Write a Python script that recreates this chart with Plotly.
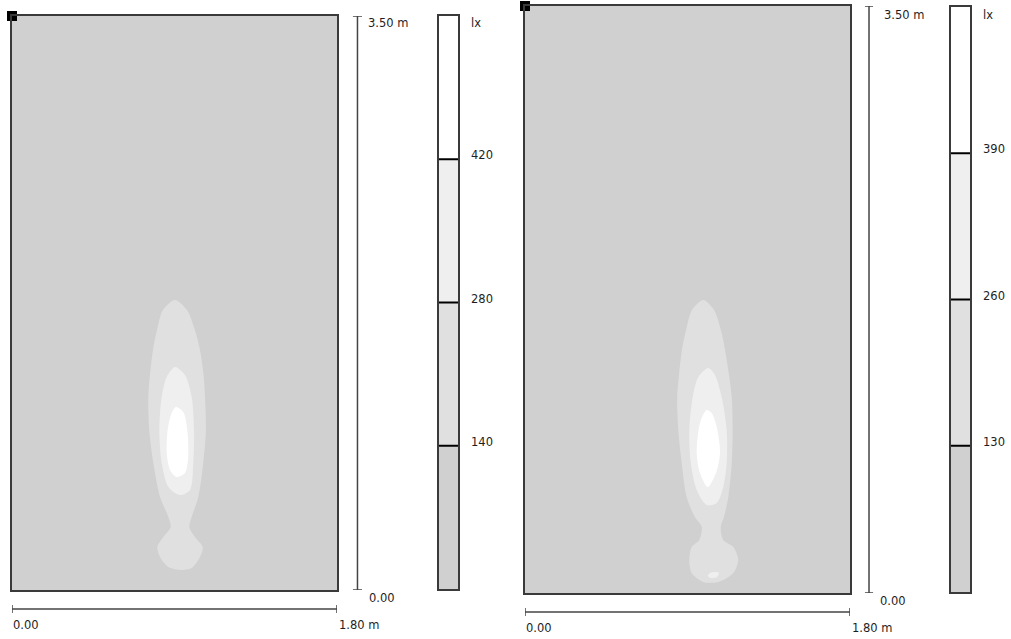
import plotly.graph_objects as go

W, H = 1011, 639

# ---------------- data (metres / lux) ----------------
room_w, room_h = 1.80, 3.50
band_colors = ["#d0d0d0", "#e0e0e0", "#efefef", "#ffffff"]

# left plot
left_levels = [140, 280, 420]
left_top = 560
left_outer_x = [0.903, 0.836, 0.803, 0.781, 0.764, 0.755, 0.760, 0.783, 0.820, 0.866, 0.879, 0.838, 0.805, 0.820, 0.866, 0.930,
                0.995, 1.041, 1.056, 1.013, 0.982, 0.995, 1.032, 1.059, 1.074, 1.069, 1.061, 1.041, 1.013, 0.969, 0.903]
left_outer_y = [1.768, 1.707, 1.585, 1.464, 1.311, 1.177, 0.976, 0.774, 0.567, 0.445, 0.384, 0.323, 0.262, 0.201, 0.140, 0.122,
                0.134, 0.201, 0.262, 0.323, 0.384, 0.445, 0.567, 0.774, 0.976, 1.177, 1.311, 1.464, 1.585, 1.707, 1.768]
left_mid_x = [0.903, 0.857, 0.829, 0.816, 0.829, 0.866, 0.930, 0.986, 1.004, 1.008, 0.995, 0.958, 0.903]
left_mid_y = [1.360, 1.299, 1.177, 0.976, 0.774, 0.628, 0.579, 0.610, 0.774, 0.976, 1.177, 1.311, 1.360]
left_in_x = [0.908, 0.884, 0.862, 0.857, 0.875, 0.912, 0.958, 0.976, 0.971, 0.949, 0.908]
left_in_y = [1.116, 1.079, 0.976, 0.835, 0.732, 0.689, 0.713, 0.811, 0.976, 1.085, 1.116]

# right plot
right_levels = [130, 260, 390]
right_top = 520
right_outer_x = [0.987, 0.925, 0.892, 0.869, 0.853, 0.843, 0.849, 0.868, 0.895, 0.941, 0.979, 0.965, 0.923, 0.910, 0.923, 0.987,
                 1.071, 1.154, 1.181, 1.154, 1.098, 1.084, 1.102, 1.126, 1.145, 1.150, 1.145, 1.130, 1.108, 1.085, 1.047, 0.987]
right_outer_y = [1.747, 1.688, 1.568, 1.449, 1.300, 1.169, 0.972, 0.775, 0.572, 0.453, 0.394, 0.316, 0.274, 0.197, 0.119, 0.066,
                 0.066, 0.119, 0.197, 0.274, 0.316, 0.394, 0.453, 0.572, 0.775, 0.972, 1.169, 1.300, 1.449, 1.568, 1.688, 1.747]
right_mid_x = [1.015, 0.960, 0.929, 0.910, 0.918, 0.951, 1.006, 1.062, 1.098, 1.117, 1.117, 1.089, 1.052, 1.015]
right_mid_y = [1.342, 1.288, 1.169, 0.972, 0.775, 0.614, 0.525, 0.537, 0.632, 0.775, 0.972, 1.169, 1.300, 1.342]
right_in_x = [1.006, 0.969, 0.951, 0.969, 1.012, 1.058, 1.080, 1.062, 1.034, 1.006]
right_in_y = [1.091, 1.014, 0.835, 0.716, 0.632, 0.716, 0.835, 0.990, 1.073, 1.091]
right_spot_x = [1.013, 1.025, 1.058, 1.074, 1.063, 1.030, 1.013]
right_spot_y = [0.101, 0.119, 0.125, 0.119, 0.095, 0.089, 0.101]

# ---------------- layout geometry (pixels) ----------------
def px_dom_x(a, b):
    return [a / W, b / W]

def px_dom_y(top, bottom):
    return [1 - bottom / H, 1 - top / H]

FONT = dict(family="DejaVu Sans, Verdana, sans-serif", size=11.5, color="#1e1e1e")
EDGE = "#3a3a3a"

fig = go.Figure()

def poly(x, y, color, xa, ya):
    fig.add_trace(go.Scatter(x=x, y=y, mode="lines", fill="toself", fillcolor=color,
                             line=dict(width=0, shape="spline", smoothing=0.8, color=color),
                             xaxis=xa, yaxis=ya, hoverinfo="skip", showlegend=False))

# left room
poly(left_outer_x, left_outer_y, band_colors[1], "x", "y")
poly(left_mid_x, left_mid_y, band_colors[2], "x", "y")
poly(left_in_x, left_in_y, band_colors[3], "x", "y")
# right room
poly(right_outer_x, right_outer_y, band_colors[1], "x3", "y3")
poly(right_mid_x, right_mid_y, band_colors[2], "x3", "y3")
poly(right_in_x, right_in_y, band_colors[3], "x3", "y3")
poly(right_spot_x, right_spot_y, band_colors[2], "x3", "y3")

# corner markers
for xa, ya in (("x", "y"), ("x3", "y3")):
    fig.add_trace(go.Scatter(x=[0], y=[room_h], mode="markers", xaxis=xa, yaxis=ya,
                             marker=dict(symbol="square", size=10, color="black", line=dict(width=0)),
                             cliponaxis=False, hoverinfo="skip", showlegend=False))

# colour scales (stacked bars)
def scale_bars(levels, top, xa, ya):
    bounds = [0] + levels + [top]
    fig.add_trace(go.Bar(x=[0] * 4, y=[bounds[i + 1] - bounds[i] for i in range(4)],
                         base=bounds[:4], width=1, marker=dict(color=band_colors, line=dict(width=0)),
                         xaxis=xa, yaxis=ya, hoverinfo="skip", showlegend=False))

scale_bars(left_levels, left_top, "x2", "y2")
scale_bars(right_levels, right_top, "x4", "y4")

room_axis = dict(showgrid=False, zeroline=False, showticklabels=False, ticks="",
                 showline=True, mirror=True, linecolor=EDGE, linewidth=1.5, fixedrange=True)

layout = dict(
    width=W, height=H, margin=dict(l=0, r=0, t=0, b=0),
    paper_bgcolor="white", plot_bgcolor="white", showlegend=False, font=FONT,
    barmode="overlay",
    xaxis=dict(room_axis, domain=px_dom_x(12, 337), range=[0, room_w]),
    yaxis=dict(room_axis, domain=px_dom_y(16, 590), range=[0, room_h]),
    xaxis2=dict(room_axis, domain=px_dom_x(439, 458), range=[-0.5, 0.5], anchor="y2"),
    yaxis2=dict(room_axis, domain=px_dom_y(16, 589), range=[0, left_top], anchor="x2"),
    xaxis3=dict(room_axis, domain=px_dom_x(525, 850), range=[0, room_w], anchor="y3"),
    yaxis3=dict(room_axis, domain=px_dom_y(6, 593), range=[0, room_h], anchor="x3"),
    xaxis4=dict(room_axis, domain=px_dom_x(951, 970), range=[-0.5, 0.5], anchor="y4"),
    yaxis4=dict(room_axis, domain=px_dom_y(7, 592), range=[0, right_top], anchor="x4"),
)
fig.update_layout(**layout)

shapes = []
anns = []

# room backgrounds
for xa, ya in (("x", "y"), ("x3", "y3")):
    shapes.append(dict(type="rect", xref=xa + " domain", yref=ya + " domain", x0=0, x1=1, y0=0, y1=1,
                       fillcolor=band_colors[0], line=dict(width=0), layer="below"))

SC = "#444444"

def scale_marks(xa, ya, hy, hcap, vx, vcap0, vcap1):
    # horizontal scale
    shapes.append(dict(type="line", xref=xa, yref=ya + " domain", x0=0, x1=room_w, y0=hy, y1=hy,
                       line=dict(color=SC, width=1.5)))
    for xv in (0, room_w):
        shapes.append(dict(type="line", xref=xa, yref=ya + " domain", x0=xv, x1=xv,
                           y0=hy - hcap, y1=hy + hcap, line=dict(color=SC, width=1.5)))
    # vertical scale
    shapes.append(dict(type="line", xref=xa + " domain", yref=ya, x0=vx, x1=vx, y0=0, y1=room_h,
                       line=dict(color=SC, width=1.5)))
    for yv in (0, room_h):
        shapes.append(dict(type="line", xref=xa + " domain", yref=ya, x0=vcap0, x1=vcap1, y0=yv, y1=yv,
                           line=dict(color=SC, width=1.5)))

scale_marks("x", "y", -0.0331, 0.007, 1.063, 1.049, 1.077)
scale_marks("x3", "y3", -0.0324, 0.0068, 1.0585, 1.046, 1.071)

def level_lines(levels, xa, ya):
    for lv in levels:
        shapes.append(dict(type="line", xref=xa + " domain", yref=ya, x0=0, x1=1, y0=lv, y1=lv,
                           line=dict(color="black", width=2)))

level_lines(left_levels, "x2", "y2")
level_lines(right_levels, "x4", "y4")

def text(x, y, t, xref, yref, xshift=0, yshift=0):
    anns.append(dict(x=x, y=y, xref=xref, yref=yref, text=t, showarrow=False, xanchor="left",
                     yanchor="middle", xshift=xshift, yshift=yshift, font=FONT))

# left labels
text(1.089, room_h, "3.50 m", "x domain", "y", yshift=-7)
text(1.092, 0, "0.00", "x domain", "y", yshift=-8)
text(0, 0, "0.00", "x", "y domain", xshift=-1, yshift=-35)
text(room_w, 0, "1.80 m", "x", "y domain", xshift=0, yshift=-35)
text(1, left_top, "lx", "x2 domain", "y2", xshift=11, yshift=-7)
for lv in left_levels:
    text(1, lv, str(lv), "x2 domain", "y2", xshift=11, yshift=4)

# right labels
text(1.098, room_h, "3.50 m", "x3 domain", "y3", yshift=-9)
text(1.086, 0, "0.00", "x3 domain", "y3", yshift=-8)
text(0, 0, "0.00", "x3", "y3 domain", xshift=-1, yshift=-35)
text(room_w, 0, "1.80 m", "x3", "y3 domain", xshift=0, yshift=-35)
text(1, right_top, "lx", "x4 domain", "y4", xshift=11, yshift=-8)
for lv in right_levels:
    text(1, lv, str(lv), "x4 domain", "y4", xshift=11, yshift=4)

fig.update_layout(shapes=shapes, annotations=anns)
fig.write_html("out.html")
